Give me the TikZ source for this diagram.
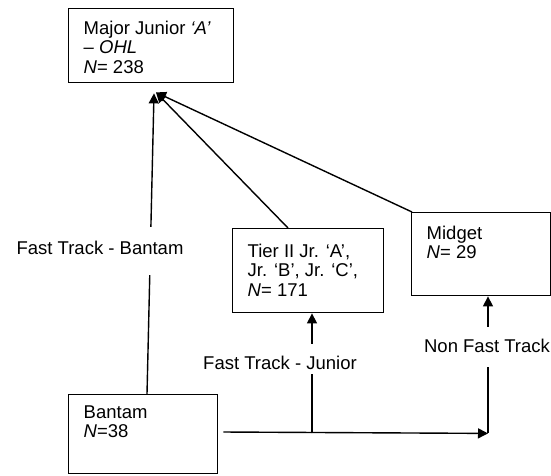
\documentclass[tikz,border=0pt]{standalone}
\usepackage{fontspec}
\setmainfont{Liberation Sans}
\usetikzlibrary{arrows.meta,calc}
\newcommand{\boxtxt}[4]{\parbox[c][#2][t]{#1}{\raggedright\leftskip=15pt\vspace*{#3}#4}}
\begin{document}
\begin{tikzpicture}[x=1pt,y=-1pt,
  font=\fontsize{18.5}{19.5}\selectfont,
  stagebox/.style={draw, line width=1.4pt, anchor=north west, inner sep=0pt},
  conn/.style={line width=1.4pt, -{Triangle[length=10pt,width=10pt]}},
  lbl/.style={fill=white, inner xsep=1pt, inner ysep=0pt}]
\useasboundingbox (0,0) rectangle (551,475);

\node[stagebox] (maj) at (68,8) {\boxtxt{165pt}{74pt}{12pt}{Major Junior \textit{‘A’}\\\textit{– OHL}\\\textit{N}= 238}};
\node[stagebox] (tier) at (232,228) {\boxtxt{151pt}{84pt}{15pt}{Tier II Jr. ‘A’,\\Jr. ‘B’, Jr. ‘C’,\\\textit{N}= 171}};
\node[stagebox] (mid) at (411,212) {\boxtxt{139pt}{83pt}{13pt}{Midget\\\textit{N}= 29}};
\node[stagebox] (ban) at (68,394) {\boxtxt{149pt}{79pt}{11pt}{Bantam\\\textit{N}=38}};

\coordinate (conv) at ($(maj.south west)+(88,9)$);
\coordinate (convb) at ($(maj.south west)+(86,10)$);
\coordinate (j1) at ($(tier.south west)+(80,120)$);
\coordinate (j2) at ($(mid.south west)+(77,137)$);

\draw[conn] ($(ban.north west)+(79,0)$) -- (convb);
\draw[conn] ($(tier.north west)+(56,0)$) -- (conv);
\draw[conn] ($(mid.north west)+(1,0)$) -- (conv);

\draw[conn] ($(ban.north east)+(5,38)$) -- (j2);
\draw[conn] (j1) -- ($(tier.south west)+(80,0)$);
\draw[conn] (j2) -- ($(mid.south west)+(77,0)$);

\node[lbl, text height=27pt, text depth=21pt] (lb1) at (100,251) {Fast Track - Bantam};
\node[lbl, text height=25pt, text depth=5pt] (lb2) at (280,359) {Fast Track - Junior};
\node[lbl, text height=25pt, text depth=15pt] (lb3) at (487,347) {Non Fast Track};
\end{tikzpicture}
\end{document}
